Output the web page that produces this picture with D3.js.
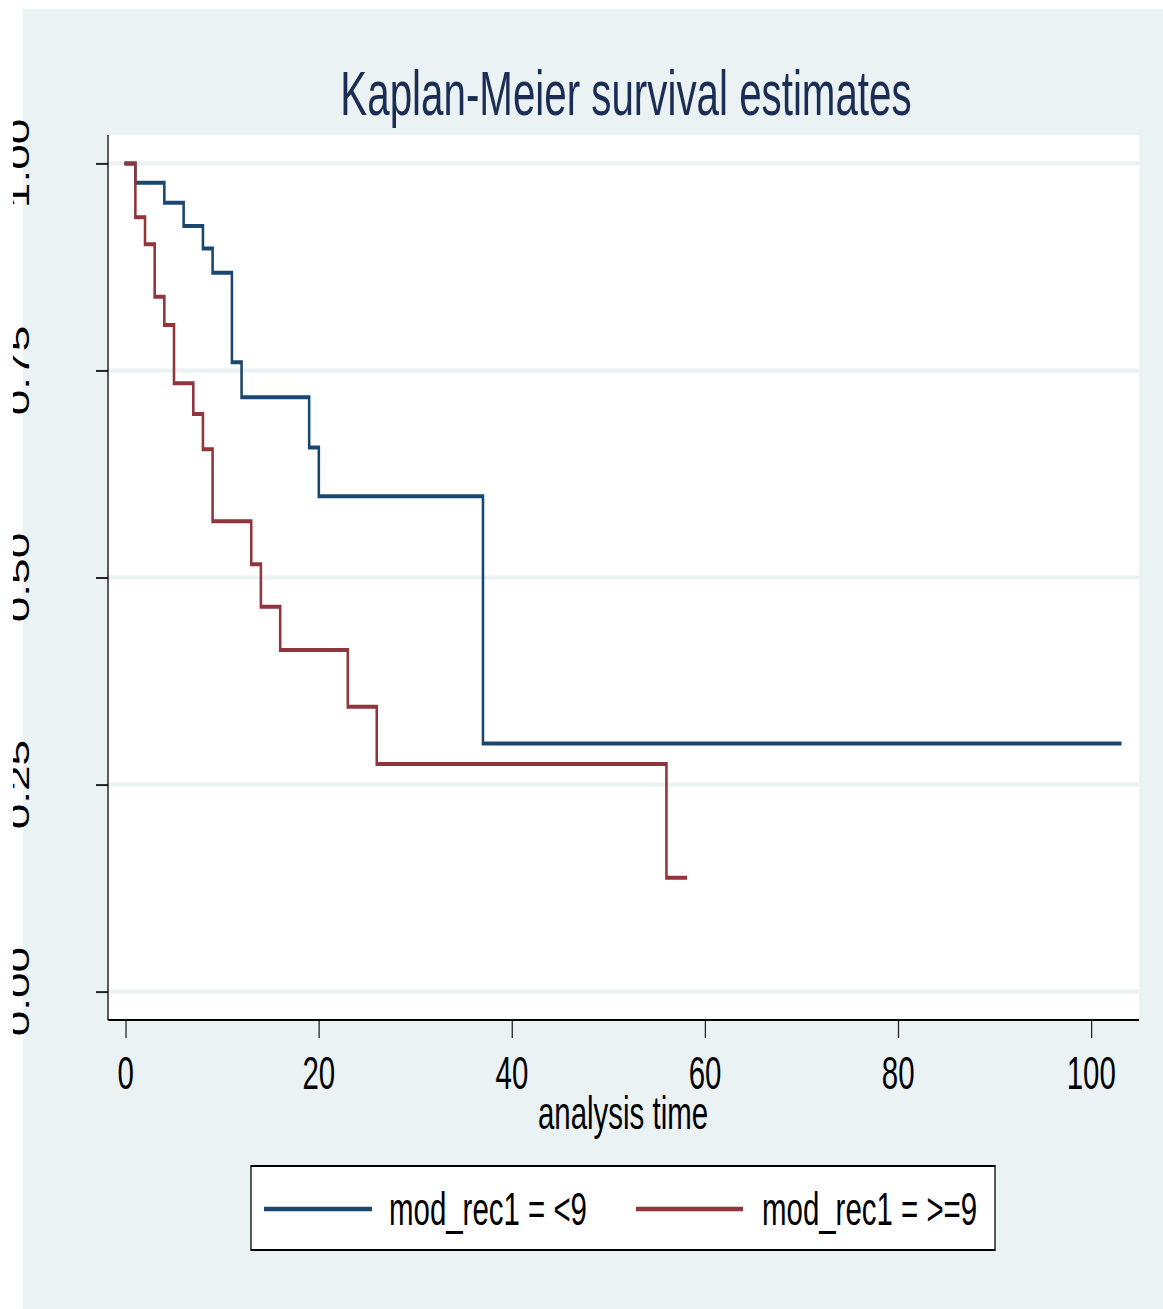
<!DOCTYPE html>
<html>
<head>
<meta charset="utf-8">
<script src="https://cdn.jsdelivr.net/npm/d3@7"></script>
<style>
  body { margin: 0; background: #fff; }
  text { font-family: "Liberation Sans", Arial, Helvetica, sans-serif; }
</style>
</head>
<body>
<svg id="chart" width="1163" height="1309"></svg>
<script>
// survival curves (time, estimate)
var groups = ["mod_rec1 = <9", "mod_rec1 = >=9"];
var groupColors = ["#1a476f", "#90353b"];

var lowTime = [0, 1, 4, 6, 8, 9, 11, 12, 19, 20, 37, 103];
var lowSurv = [1, 0.9766, 0.9526, 0.9245, 0.8971, 0.868, 0.760, 0.7176, 0.657, 0.598, 0.2997, 0.2997];

var highTime = [0, 1, 2, 3, 4, 5, 7, 8, 9, 13, 14, 16, 23, 26, 56, 58];
var highSurv = [1, 0.935, 0.9024, 0.839, 0.805, 0.7345, 0.6975, 0.6548, 0.568, 0.516, 0.4647, 0.4124, 0.344, 0.2748, 0.1374, 0.1374];

var xTicks = [0, 20, 40, 60, 80, 100];
var yTicks = [0, 0.25, 0.5, 0.75, 1];

var titleText = "Kaplan-Meier survival estimates";
var xTitle = "analysis time";

// the whole graph looks squeezed sideways, so draw in a wide space and squash it
var K = 0.64;
function ux(v) { return v / K; }

var svg = d3.select("#chart");
var g = svg.append("g").attr("transform", "scale(" + K + ",1)");

// graph region
g.append("rect")
    .attr("x", ux(23)).attr("y", 9)
    .attr("width", ux(1163 - 23)).attr("height", 1300)
    .attr("fill", "#eaf2f3");

// plot region
var plot = { left: 108, right: 1139, top: 135, bottom: 1020 };
g.append("rect")
    .attr("x", ux(plot.left)).attr("y", plot.top)
    .attr("width", ux(plot.right - plot.left)).attr("height", plot.bottom - plot.top)
    .attr("fill", "#fff");

var x = d3.scaleLinear().domain([0, 100]).range([ux(125.7), ux(1091.3)]);
var y = d3.scaleLinear().domain([0, 1]).range([991.6, 163.4]);

// grid
g.selectAll(".grid")
    .data(yTicks)
    .enter()
    .append("line")
    .attr("class", "grid")
    .attr("x1", ux(plot.left)).attr("x2", ux(plot.right))
    .attr("y1", function (d) { return y(d); })
    .attr("y2", function (d) { return y(d); })
    .attr("stroke", "#eaf2f3")
    .attr("stroke-width", 4);

// curves
var line = d3.line()
    .x(function (d) { return x(d[0]); })
    .y(function (d) { return y(d[1]); })
    .curve(d3.curveStepAfter);

var series = [d3.zip(lowTime, lowSurv), d3.zip(highTime, highSurv)];
g.selectAll(".km")
    .data(series)
    .enter()
    .append("path")
    .attr("class", "km")
    .attr("d", line)
    .attr("fill", "none")
    .attr("stroke", function (d, i) { return groupColors[i]; })
    .attr("stroke-width", 4)
    .attr("stroke-linejoin", "miter")
    .attr("stroke-linecap", "square");

// axes
var yAxis = d3.axisLeft(y).tickValues(yTicks).tickSize(ux(12)).tickFormat("");
var xAxis = d3.axisBottom(x).tickValues(xTicks).tickSize(18).tickFormat("");

var gy = g.append("g").attr("transform", "translate(" + ux(plot.left) + ",0)").call(yAxis);
gy.select(".domain").remove();
gy.selectAll("line").attr("stroke", "#222").attr("stroke-width", 2);

var gx = g.append("g").attr("transform", "translate(0," + plot.bottom + ")").call(xAxis);
gx.select(".domain").remove();
gx.selectAll("line").attr("stroke", "#222").attr("stroke-width", 2);

g.append("line")
    .attr("x1", ux(plot.left)).attr("x2", ux(plot.left))
    .attr("y1", plot.top).attr("y2", plot.bottom)
    .attr("stroke", "#000").attr("stroke-width", 2);
g.append("line")
    .attr("x1", ux(plot.left)).attr("x2", ux(plot.right))
    .attr("y1", plot.bottom).attr("y2", plot.bottom)
    .attr("stroke", "#000").attr("stroke-width", 2);

// x labels
g.selectAll(".xlab")
    .data(xTicks)
    .enter()
    .append("text")
    .attr("class", "xlab")
    .attr("x", function (d) { return x(d); })
    .attr("y", 1089)
    .attr("text-anchor", "middle")
    .attr("font-size", 46)
    .attr("fill", "#000")
    .text(function (d) { return d; });

// y labels, cut off at the left edge like in the picture
svg.append("defs").append("clipPath")
    .attr("id", "ycut")
    .append("rect")
    .attr("x", ux(13)).attr("y", 0)
    .attr("width", ux(100)).attr("height", 1309);

g.append("g")
    .attr("clip-path", "url(#ycut)")
    .selectAll(".ylab")
    .data(yTicks)
    .enter()
    .append("text")
    .attr("class", "ylab")
    .attr("transform", function (d) { return "translate(" + ux(28.5) + "," + y(d) + ") rotate(-90)"; })
    .attr("text-anchor", "middle")
    .attr("font-size", 46)
    .attr("fill", "#000")
    .text(function (d) { return d3.format(".2f")(d); });

// titles
g.append("text")
    .attr("x", ux(626)).attr("y", 115)
    .attr("text-anchor", "middle")
    .attr("font-size", 63)
    .attr("fill", "#1c2d54")
    .text(titleText);

g.append("text")
    .attr("x", ux(623)).attr("y", 1129)
    .attr("text-anchor", "middle")
    .attr("font-size", 46)
    .attr("fill", "#000")
    .text(xTitle);

// legend
g.append("rect")
    .attr("x", ux(251)).attr("y", 1166)
    .attr("width", ux(995 - 251)).attr("height", 84)
    .attr("fill", "#fff")
    .attr("stroke", "#000")
    .attr("stroke-width", 2);

var legendKeys = [{ x1: 264, x2: 372, tx: 389 }, { x1: 636, x2: 743, tx: 762 }];
var leg = g.selectAll(".leg")
    .data(legendKeys)
    .enter()
    .append("g")
    .attr("class", "leg");

leg.append("line")
    .attr("x1", function (d) { return ux(d.x1); })
    .attr("x2", function (d) { return ux(d.x2); })
    .attr("y1", 1209).attr("y2", 1209)
    .attr("stroke", function (d, i) { return groupColors[i]; })
    .attr("stroke-width", 4.5);

leg.append("text")
    .attr("x", function (d) { return ux(d.tx); })
    .attr("y", 1225)
    .attr("font-size", 46)
    .attr("fill", "#000")
    .text(function (d, i) { return groups[i]; });
</script>
</body>
</html>
